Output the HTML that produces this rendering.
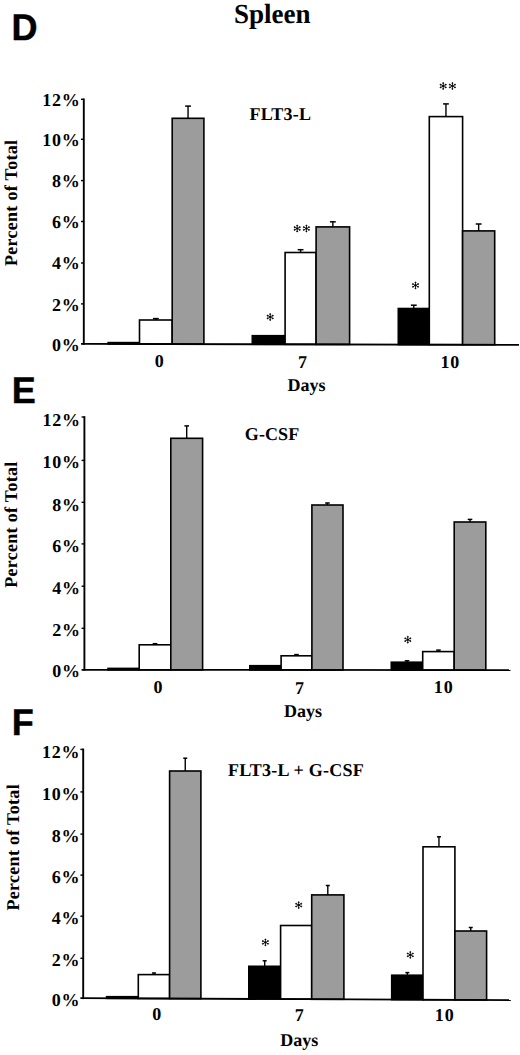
<!DOCTYPE html>
<html><head><meta charset="utf-8"><style>
html,body{margin:0;padding:0;background:#fff;overflow:hidden;}
svg{display:block;}
</style></head><body>
<svg width="520" height="1055" viewBox="0 0 520 1055" font-family='"Liberation Serif", serif' font-weight="bold" font-size="18" fill="#000" text-rendering="geometricPrecision">
<rect width="520" height="1055" fill="#fff"/>
<text transform="translate(272.2 22.6) scale(0.98 1)" font-size="27.6" text-anchor="middle">Spleen</text>
<text transform="translate(11.6 40.2) scale(0.975 1)" font-family='"Liberation Sans", sans-serif' font-weight="bold" font-size="37" stroke="#000" stroke-width="0.4">D</text>
<rect x="108.20" y="342.60" width="31.30" height="1.38" fill="#000" stroke="#000" stroke-width="1.6"/>
<line x1="155.85" y1="320.00" x2="155.85" y2="318.60" stroke="#000" stroke-width="1.4"/>
<line x1="152.95" y1="318.60" x2="158.75" y2="318.60" stroke="#000" stroke-width="1.5"/>
<rect x="139.50" y="320.00" width="32.70" height="24.05" fill="#fff" stroke="#000" stroke-width="1.6"/>
<line x1="188.05" y1="118.30" x2="188.05" y2="106.10" stroke="#000" stroke-width="1.4"/>
<line x1="185.15" y1="106.10" x2="190.95" y2="106.10" stroke="#000" stroke-width="1.5"/>
<rect x="172.20" y="118.30" width="31.70" height="225.82" fill="#9c9c9c" stroke="#000" stroke-width="1.6"/>
<rect x="252.30" y="335.70" width="32.80" height="8.58" fill="#000" stroke="#000" stroke-width="1.6"/>
<line x1="300.60" y1="252.50" x2="300.60" y2="249.70" stroke="#000" stroke-width="1.4"/>
<line x1="297.70" y1="249.70" x2="303.50" y2="249.70" stroke="#000" stroke-width="1.5"/>
<rect x="285.10" y="252.50" width="31.00" height="91.85" fill="#fff" stroke="#000" stroke-width="1.6"/>
<line x1="332.85" y1="226.90" x2="332.85" y2="221.80" stroke="#000" stroke-width="1.4"/>
<line x1="329.95" y1="221.80" x2="335.75" y2="221.80" stroke="#000" stroke-width="1.5"/>
<rect x="316.10" y="226.90" width="33.50" height="117.52" fill="#9c9c9c" stroke="#000" stroke-width="1.6"/>
<line x1="413.80" y1="308.50" x2="413.80" y2="305.20" stroke="#000" stroke-width="1.4"/>
<line x1="410.90" y1="305.20" x2="416.70" y2="305.20" stroke="#000" stroke-width="1.5"/>
<rect x="398.30" y="308.50" width="31.00" height="36.08" fill="#000" stroke="#000" stroke-width="1.6"/>
<line x1="445.95" y1="116.60" x2="445.95" y2="103.90" stroke="#000" stroke-width="1.4"/>
<line x1="443.05" y1="103.90" x2="448.85" y2="103.90" stroke="#000" stroke-width="1.5"/>
<rect x="429.30" y="116.60" width="33.30" height="228.05" fill="#fff" stroke="#000" stroke-width="1.6"/>
<line x1="478.65" y1="230.90" x2="478.65" y2="224.00" stroke="#000" stroke-width="1.4"/>
<line x1="475.75" y1="224.00" x2="481.55" y2="224.00" stroke="#000" stroke-width="1.5"/>
<rect x="462.60" y="230.90" width="32.10" height="113.82" fill="#9c9c9c" stroke="#000" stroke-width="1.6"/>
<line x1="83.8" y1="98.5" x2="83.8" y2="344.79999999999995" stroke="#000" stroke-width="1.9"/>
<line x1="81.0" y1="343.9" x2="519.0" y2="344.8" stroke="#000" stroke-width="1.8"/>
<text transform="translate(80.40 350.65) scale(1 1.0)" text-anchor="end" letter-spacing="0.7">0%</text>
<line x1="81.0" y1="303.90" x2="83.8" y2="303.90" stroke="#000" stroke-width="1.4"/>
<text transform="translate(80.40 310.85) scale(1 1.0)" text-anchor="end" letter-spacing="0.7">2%</text>
<line x1="81.0" y1="263.00" x2="83.8" y2="263.00" stroke="#000" stroke-width="1.4"/>
<text transform="translate(80.40 269.35) scale(1 1.0)" text-anchor="end" letter-spacing="0.7">4%</text>
<line x1="81.0" y1="221.50" x2="83.8" y2="221.50" stroke="#000" stroke-width="1.4"/>
<text transform="translate(80.40 228.35) scale(1 1.0)" text-anchor="end" letter-spacing="0.7">6%</text>
<line x1="81.0" y1="180.60" x2="83.8" y2="180.60" stroke="#000" stroke-width="1.4"/>
<text transform="translate(80.40 187.05) scale(1 1.0)" text-anchor="end" letter-spacing="0.7">8%</text>
<line x1="81.0" y1="139.30" x2="83.8" y2="139.30" stroke="#000" stroke-width="1.4"/>
<text transform="translate(80.40 145.75) scale(1 1.0)" text-anchor="end" letter-spacing="0.7">10%</text>
<line x1="81.0" y1="99.30" x2="83.8" y2="99.30" stroke="#000" stroke-width="1.4"/>
<text transform="translate(80.40 105.85) scale(1 1.0)" text-anchor="end" letter-spacing="0.7">12%</text>
<text transform="translate(17.2 202.9) rotate(-90)" text-anchor="middle" letter-spacing="0.3">Percent of Total</text>
<text x="249.6" y="119.5" letter-spacing="0.2">FLT3-L</text>
<text transform="translate(159.20 367.4) scale(1 1.0)" text-anchor="middle" letter-spacing="0">0</text>
<text transform="translate(302.50 367.5) scale(1 1.0)" text-anchor="middle" letter-spacing="0">7</text>
<text transform="translate(450.35 367.5) scale(1 1.0)" text-anchor="middle" letter-spacing="0.9">10</text>
<text transform="translate(306.6 391.3) scale(1 1.0)" text-anchor="middle">Days</text>
<g stroke="#000" stroke-width="0.75" stroke-linecap="butt" fill="#000"><line x1="270.20" y1="314.10" x2="270.20" y2="319.90"/><circle cx="270.20" cy="314.10" r="0.55"/><circle cx="270.20" cy="319.90" r="0.55"/><line x1="267.64" y1="315.64" x2="272.76" y2="318.36"/><circle cx="267.64" cy="315.64" r="0.55"/><circle cx="272.76" cy="318.36" r="0.55"/><line x1="272.76" y1="315.64" x2="267.64" y2="318.36"/><circle cx="272.76" cy="315.64" r="0.55"/><circle cx="267.64" cy="318.36" r="0.55"/><circle cx="270.20" cy="317.00" r="0.8"/><line x1="297.20" y1="225.60" x2="297.20" y2="231.40"/><circle cx="297.20" cy="225.60" r="0.55"/><circle cx="297.20" cy="231.40" r="0.55"/><line x1="294.64" y1="227.14" x2="299.76" y2="229.86"/><circle cx="294.64" cy="227.14" r="0.55"/><circle cx="299.76" cy="229.86" r="0.55"/><line x1="299.76" y1="227.14" x2="294.64" y2="229.86"/><circle cx="299.76" cy="227.14" r="0.55"/><circle cx="294.64" cy="229.86" r="0.55"/><circle cx="297.20" cy="228.50" r="0.8"/><line x1="306.40" y1="225.60" x2="306.40" y2="231.40"/><circle cx="306.40" cy="225.60" r="0.55"/><circle cx="306.40" cy="231.40" r="0.55"/><line x1="303.84" y1="227.14" x2="308.96" y2="229.86"/><circle cx="303.84" cy="227.14" r="0.55"/><circle cx="308.96" cy="229.86" r="0.55"/><line x1="308.96" y1="227.14" x2="303.84" y2="229.86"/><circle cx="308.96" cy="227.14" r="0.55"/><circle cx="303.84" cy="229.86" r="0.55"/><circle cx="306.40" cy="228.50" r="0.8"/><line x1="415.50" y1="282.50" x2="415.50" y2="288.30"/><circle cx="415.50" cy="282.50" r="0.55"/><circle cx="415.50" cy="288.30" r="0.55"/><line x1="412.94" y1="284.04" x2="418.06" y2="286.76"/><circle cx="412.94" cy="284.04" r="0.55"/><circle cx="418.06" cy="286.76" r="0.55"/><line x1="418.06" y1="284.04" x2="412.94" y2="286.76"/><circle cx="418.06" cy="284.04" r="0.55"/><circle cx="412.94" cy="286.76" r="0.55"/><circle cx="415.50" cy="285.40" r="0.8"/><line x1="443.20" y1="83.10" x2="443.20" y2="88.90"/><circle cx="443.20" cy="83.10" r="0.55"/><circle cx="443.20" cy="88.90" r="0.55"/><line x1="440.64" y1="84.64" x2="445.76" y2="87.36"/><circle cx="440.64" cy="84.64" r="0.55"/><circle cx="445.76" cy="87.36" r="0.55"/><line x1="445.76" y1="84.64" x2="440.64" y2="87.36"/><circle cx="445.76" cy="84.64" r="0.55"/><circle cx="440.64" cy="87.36" r="0.55"/><circle cx="443.20" cy="86.00" r="0.8"/><line x1="452.40" y1="83.10" x2="452.40" y2="88.90"/><circle cx="452.40" cy="83.10" r="0.55"/><circle cx="452.40" cy="88.90" r="0.55"/><line x1="449.84" y1="84.64" x2="454.96" y2="87.36"/><circle cx="449.84" cy="84.64" r="0.55"/><circle cx="454.96" cy="87.36" r="0.55"/><line x1="454.96" y1="84.64" x2="449.84" y2="87.36"/><circle cx="454.96" cy="84.64" r="0.55"/><circle cx="449.84" cy="87.36" r="0.55"/><circle cx="452.40" cy="86.00" r="0.8"/></g>
<text transform="translate(11.8 402.7) scale(0.975 1)" font-family='"Liberation Sans", sans-serif' font-weight="bold" font-size="37" stroke="#000" stroke-width="0.4">E</text>
<rect x="108.00" y="668.40" width="31.20" height="1.44" fill="#000" stroke="#000" stroke-width="1.6"/>
<line x1="155.00" y1="644.80" x2="155.00" y2="643.70" stroke="#000" stroke-width="1.4"/>
<line x1="152.70" y1="643.70" x2="157.30" y2="643.70" stroke="#000" stroke-width="1.5"/>
<rect x="139.20" y="644.80" width="31.60" height="25.07" fill="#fff" stroke="#000" stroke-width="1.6"/>
<line x1="186.70" y1="438.30" x2="186.70" y2="425.90" stroke="#000" stroke-width="1.4"/>
<line x1="184.40" y1="425.90" x2="189.00" y2="425.90" stroke="#000" stroke-width="1.5"/>
<rect x="170.80" y="438.30" width="31.80" height="231.60" fill="#9c9c9c" stroke="#000" stroke-width="1.6"/>
<rect x="249.80" y="665.70" width="31.30" height="4.27" fill="#000" stroke="#000" stroke-width="1.6"/>
<line x1="296.50" y1="655.80" x2="296.50" y2="654.60" stroke="#000" stroke-width="1.4"/>
<line x1="294.20" y1="654.60" x2="298.80" y2="654.60" stroke="#000" stroke-width="1.5"/>
<rect x="281.10" y="655.80" width="30.80" height="14.20" fill="#fff" stroke="#000" stroke-width="1.6"/>
<line x1="327.45" y1="505.00" x2="327.45" y2="503.00" stroke="#000" stroke-width="1.4"/>
<line x1="325.15" y1="503.00" x2="329.75" y2="503.00" stroke="#000" stroke-width="1.5"/>
<rect x="311.90" y="505.00" width="31.10" height="165.03" fill="#9c9c9c" stroke="#000" stroke-width="1.6"/>
<line x1="407.00" y1="662.20" x2="407.00" y2="660.80" stroke="#000" stroke-width="1.4"/>
<line x1="404.70" y1="660.80" x2="409.30" y2="660.80" stroke="#000" stroke-width="1.5"/>
<rect x="391.30" y="662.20" width="31.40" height="7.90" fill="#000" stroke="#000" stroke-width="1.6"/>
<line x1="438.45" y1="651.60" x2="438.45" y2="650.10" stroke="#000" stroke-width="1.4"/>
<line x1="436.15" y1="650.10" x2="440.75" y2="650.10" stroke="#000" stroke-width="1.5"/>
<rect x="422.70" y="651.60" width="31.50" height="18.53" fill="#fff" stroke="#000" stroke-width="1.6"/>
<line x1="470.00" y1="522.00" x2="470.00" y2="519.40" stroke="#000" stroke-width="1.4"/>
<line x1="467.70" y1="519.40" x2="472.30" y2="519.40" stroke="#000" stroke-width="1.5"/>
<rect x="454.20" y="522.00" width="31.60" height="148.16" fill="#9c9c9c" stroke="#000" stroke-width="1.6"/>
<line x1="84.4" y1="416.2" x2="84.4" y2="670.6999999999999" stroke="#000" stroke-width="1.9"/>
<line x1="81.60000000000001" y1="669.8" x2="510.5" y2="670.2" stroke="#000" stroke-width="1.8"/>
<text transform="translate(80.70 677.45) scale(1 1.0)" text-anchor="end" letter-spacing="0.7">0%</text>
<line x1="81.60000000000001" y1="628.30" x2="84.4" y2="628.30" stroke="#000" stroke-width="1.4"/>
<text transform="translate(80.70 635.95) scale(1 1.0)" text-anchor="end" letter-spacing="0.7">2%</text>
<line x1="81.60000000000001" y1="586.20" x2="84.4" y2="586.20" stroke="#000" stroke-width="1.4"/>
<text transform="translate(80.70 594.05) scale(1 1.0)" text-anchor="end" letter-spacing="0.7">4%</text>
<line x1="81.60000000000001" y1="543.90" x2="84.4" y2="543.90" stroke="#000" stroke-width="1.4"/>
<text transform="translate(80.70 551.50) scale(1 1.0)" text-anchor="end" letter-spacing="0.7">6%</text>
<line x1="81.60000000000001" y1="502.30" x2="84.4" y2="502.30" stroke="#000" stroke-width="1.4"/>
<text transform="translate(80.70 510.55) scale(1 1.0)" text-anchor="end" letter-spacing="0.7">8%</text>
<line x1="81.60000000000001" y1="460.40" x2="84.4" y2="460.40" stroke="#000" stroke-width="1.4"/>
<text transform="translate(80.70 468.25) scale(1 1.0)" text-anchor="end" letter-spacing="0.7">10%</text>
<line x1="81.60000000000001" y1="417.00" x2="84.4" y2="417.00" stroke="#000" stroke-width="1.4"/>
<text transform="translate(80.70 425.70) scale(1 1.0)" text-anchor="end" letter-spacing="0.7">12%</text>
<text transform="translate(16.6 524.6) rotate(-90)" text-anchor="middle" letter-spacing="0.3">Percent of Total</text>
<text x="244.8" y="440.0" letter-spacing="0.1">G-CSF</text>
<text transform="translate(158.10 693.4) scale(1 1.0)" text-anchor="middle" letter-spacing="0">0</text>
<text transform="translate(299.50 693.6) scale(1 1.0)" text-anchor="middle" letter-spacing="0">7</text>
<text transform="translate(443.65 693.4) scale(1 1.0)" text-anchor="middle" letter-spacing="0.9">10</text>
<text transform="translate(302.9 716.7) scale(1 1.0)" text-anchor="middle">Days</text>
<g stroke="#000" stroke-width="0.75" stroke-linecap="butt" fill="#000"><line x1="407.80" y1="636.80" x2="407.80" y2="642.60"/><circle cx="407.80" cy="636.80" r="0.55"/><circle cx="407.80" cy="642.60" r="0.55"/><line x1="405.24" y1="638.34" x2="410.36" y2="641.06"/><circle cx="405.24" cy="638.34" r="0.55"/><circle cx="410.36" cy="641.06" r="0.55"/><line x1="410.36" y1="638.34" x2="405.24" y2="641.06"/><circle cx="410.36" cy="638.34" r="0.55"/><circle cx="405.24" cy="641.06" r="0.55"/><circle cx="407.80" cy="639.70" r="0.8"/></g>
<text transform="translate(11.8 734.7) scale(0.975 1)" font-family='"Liberation Sans", sans-serif' font-weight="bold" font-size="37" stroke="#000" stroke-width="0.4">F</text>
<rect x="106.60" y="996.70" width="31.70" height="1.67" fill="#000" stroke="#000" stroke-width="1.6"/>
<line x1="153.95" y1="974.60" x2="153.95" y2="973.00" stroke="#000" stroke-width="1.4"/>
<line x1="151.95" y1="973.00" x2="155.95" y2="973.00" stroke="#000" stroke-width="1.5"/>
<rect x="138.30" y="974.60" width="31.30" height="23.91" fill="#fff" stroke="#000" stroke-width="1.6"/>
<line x1="185.25" y1="771.00" x2="185.25" y2="758.20" stroke="#000" stroke-width="1.4"/>
<line x1="183.25" y1="758.20" x2="187.25" y2="758.20" stroke="#000" stroke-width="1.5"/>
<rect x="169.60" y="771.00" width="31.30" height="227.65" fill="#9c9c9c" stroke="#000" stroke-width="1.6"/>
<line x1="264.70" y1="966.30" x2="264.70" y2="960.80" stroke="#000" stroke-width="1.4"/>
<line x1="262.70" y1="960.80" x2="266.70" y2="960.80" stroke="#000" stroke-width="1.5"/>
<rect x="248.80" y="966.30" width="31.80" height="32.71" fill="#000" stroke="#000" stroke-width="1.6"/>
<rect x="280.60" y="925.50" width="31.10" height="73.65" fill="#fff" stroke="#000" stroke-width="1.6"/>
<line x1="327.80" y1="894.90" x2="327.80" y2="885.50" stroke="#000" stroke-width="1.4"/>
<line x1="325.80" y1="885.50" x2="329.80" y2="885.50" stroke="#000" stroke-width="1.5"/>
<rect x="311.70" y="894.90" width="32.20" height="104.39" fill="#9c9c9c" stroke="#000" stroke-width="1.6"/>
<line x1="407.35" y1="975.20" x2="407.35" y2="972.60" stroke="#000" stroke-width="1.4"/>
<line x1="405.35" y1="972.60" x2="409.35" y2="972.60" stroke="#000" stroke-width="1.5"/>
<rect x="391.70" y="975.20" width="31.30" height="24.44" fill="#000" stroke="#000" stroke-width="1.6"/>
<line x1="438.95" y1="846.80" x2="438.95" y2="836.80" stroke="#000" stroke-width="1.4"/>
<line x1="436.95" y1="836.80" x2="440.95" y2="836.80" stroke="#000" stroke-width="1.5"/>
<rect x="423.00" y="846.80" width="31.90" height="152.98" fill="#fff" stroke="#000" stroke-width="1.6"/>
<line x1="470.75" y1="931.00" x2="470.75" y2="927.50" stroke="#000" stroke-width="1.4"/>
<line x1="468.75" y1="927.50" x2="472.75" y2="927.50" stroke="#000" stroke-width="1.5"/>
<rect x="454.90" y="931.00" width="31.70" height="68.92" fill="#9c9c9c" stroke="#000" stroke-width="1.6"/>
<line x1="83.2" y1="748.6" x2="83.2" y2="999.1" stroke="#000" stroke-width="1.9"/>
<line x1="80.4" y1="998.2" x2="510.8" y2="1000.1" stroke="#000" stroke-width="1.8"/>
<text transform="translate(80.20 1006.15) scale(1 1.0)" text-anchor="end" letter-spacing="0.7">0%</text>
<line x1="80.4" y1="958.30" x2="83.2" y2="958.30" stroke="#000" stroke-width="1.4"/>
<text transform="translate(80.20 965.55) scale(1 1.0)" text-anchor="end" letter-spacing="0.7">2%</text>
<line x1="80.4" y1="916.20" x2="83.2" y2="916.20" stroke="#000" stroke-width="1.4"/>
<text transform="translate(80.20 924.15) scale(1 1.0)" text-anchor="end" letter-spacing="0.7">4%</text>
<line x1="80.4" y1="875.10" x2="83.2" y2="875.10" stroke="#000" stroke-width="1.4"/>
<text transform="translate(80.20 882.80) scale(1 1.0)" text-anchor="end" letter-spacing="0.7">6%</text>
<line x1="80.4" y1="834.10" x2="83.2" y2="834.10" stroke="#000" stroke-width="1.4"/>
<text transform="translate(80.20 842.20) scale(1 1.0)" text-anchor="end" letter-spacing="0.7">8%</text>
<line x1="80.4" y1="791.90" x2="83.2" y2="791.90" stroke="#000" stroke-width="1.4"/>
<text transform="translate(80.20 799.55) scale(1 1.0)" text-anchor="end" letter-spacing="0.7">10%</text>
<line x1="80.4" y1="749.40" x2="83.2" y2="749.40" stroke="#000" stroke-width="1.4"/>
<text transform="translate(80.20 757.50) scale(1 1.0)" text-anchor="end" letter-spacing="0.7">12%</text>
<text transform="translate(19.4 847.3) rotate(-90)" text-anchor="middle" letter-spacing="0.3">Percent of Total</text>
<text x="228.0" y="775.6" letter-spacing="0.25">FLT3-L + G-CSF</text>
<text transform="translate(156.80 1020.3) scale(1 1.0)" text-anchor="middle" letter-spacing="0">0</text>
<text transform="translate(299.20 1021.0) scale(1 1.0)" text-anchor="middle" letter-spacing="0">7</text>
<text transform="translate(444.65 1021.4) scale(1 1.0)" text-anchor="middle" letter-spacing="0.9">10</text>
<text transform="translate(299.2 1046.0) scale(1 1.0)" text-anchor="middle">Days</text>
<g stroke="#000" stroke-width="0.75" stroke-linecap="butt" fill="#000"><line x1="265.40" y1="939.50" x2="265.40" y2="945.30"/><circle cx="265.40" cy="939.50" r="0.55"/><circle cx="265.40" cy="945.30" r="0.55"/><line x1="262.84" y1="941.04" x2="267.96" y2="943.76"/><circle cx="262.84" cy="941.04" r="0.55"/><circle cx="267.96" cy="943.76" r="0.55"/><line x1="267.96" y1="941.04" x2="262.84" y2="943.76"/><circle cx="267.96" cy="941.04" r="0.55"/><circle cx="262.84" cy="943.76" r="0.55"/><circle cx="265.40" cy="942.40" r="0.8"/><line x1="298.70" y1="902.20" x2="298.70" y2="908.00"/><circle cx="298.70" cy="902.20" r="0.55"/><circle cx="298.70" cy="908.00" r="0.55"/><line x1="296.14" y1="903.74" x2="301.26" y2="906.46"/><circle cx="296.14" cy="903.74" r="0.55"/><circle cx="301.26" cy="906.46" r="0.55"/><line x1="301.26" y1="903.74" x2="296.14" y2="906.46"/><circle cx="301.26" cy="903.74" r="0.55"/><circle cx="296.14" cy="906.46" r="0.55"/><circle cx="298.70" cy="905.10" r="0.8"/><line x1="410.30" y1="952.00" x2="410.30" y2="957.80"/><circle cx="410.30" cy="952.00" r="0.55"/><circle cx="410.30" cy="957.80" r="0.55"/><line x1="407.74" y1="953.54" x2="412.86" y2="956.26"/><circle cx="407.74" cy="953.54" r="0.55"/><circle cx="412.86" cy="956.26" r="0.55"/><line x1="412.86" y1="953.54" x2="407.74" y2="956.26"/><circle cx="412.86" cy="953.54" r="0.55"/><circle cx="407.74" cy="956.26" r="0.55"/><circle cx="410.30" cy="954.90" r="0.8"/></g>
</svg>
</body></html>
